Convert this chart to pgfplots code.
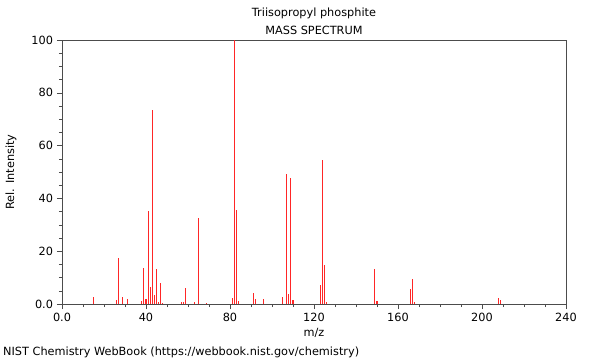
\documentclass[border=0pt]{standalone}
\usepackage{fontspec}
\setmainfont{DejaVu Sans}
\usepackage{pgfplots}
\pgfplotsset{compat=1.18}
\begin{document}
\fontsize{11.3bp}{13.5bp}\selectfont
\begin{tikzpicture}
\path[use as bounding box] (-62bp,-56bp) rectangle (538bp,304bp);
\begin{axis}[
  at={(0,0)}, anchor=south west,
  scale only axis, width=504bp, height=264bp,
  xmin=0, xmax=240, ymin=0, ymax=100,
  xtick={0,40,80,120,160,200,240},
  xticklabels={0.0,40,80,120,160,200,240},
  ytick={0,20,40,60,80,100},
  yticklabels={0.0,20,40,60,80,100},
  minor x tick num=3, minor y tick num=3,
  tick align=outside, tick pos=left,
  major tick length=5bp, minor tick length=3bp,
  axis line style={draw=black!70},
  every tick/.style={black!70},
  /pgf/number format/assume math mode=true,
  tick label style={font=\fontsize{11.3bp}{13bp}\selectfont},
  label style={font=\fontsize{11.3bp}{13bp}\selectfont},
  xlabel={m/z},
  xlabel style={at={(axis description cs:0.5,0)}, anchor=center, yshift=-29bp},
  ylabel={Rel. Intensity},
  ylabel style={at={(axis description cs:-0.101,0.5)}, anchor=center},
]
\addplot[ycomb, draw=red!85!white, line width=1.1bp, mark=none] coordinates {
(15,2.6) (26,1.4) (27,17.6) (29,2.5) (31,1.8) (38,1.0) (39,13.6) (40,1.9)
(41,35.2) (42,6.3) (43,73.6) (44,3.4) (45,13.2) (46,0.9) (47,7.9) (48,0.4)
(57,0.6) (58,0.7) (59,5.9) (63,0.7) (65,32.7) (69,0.3) (81,2.4) (82,100)
(83,35.6) (84,1.0) (91,4.0) (92,1.8) (96,1.8) (105,2.8) (107,49.1) (108,3.8)
(109,47.9) (110,1.4) (123,7.3) (124,54.6) (125,14.8) (126,0.8) (149,13.1)
(150,1.0) (166,5.7) (167,9.5) (168,0.6) (208,2.4) (209,1.4)
};
\end{axis}
\node[anchor=center] at (252bp,291bp) {Triisopropyl phosphite};
\node[anchor=center] at (252bp,274bp) {MASS SPECTRUM};
\node[anchor=west, inner sep=0pt] at (-59bp,-48bp) {NIST Chemistry WebBook (https://webbook.nist.gov/chemistry)};
\end{tikzpicture}
\end{document}
